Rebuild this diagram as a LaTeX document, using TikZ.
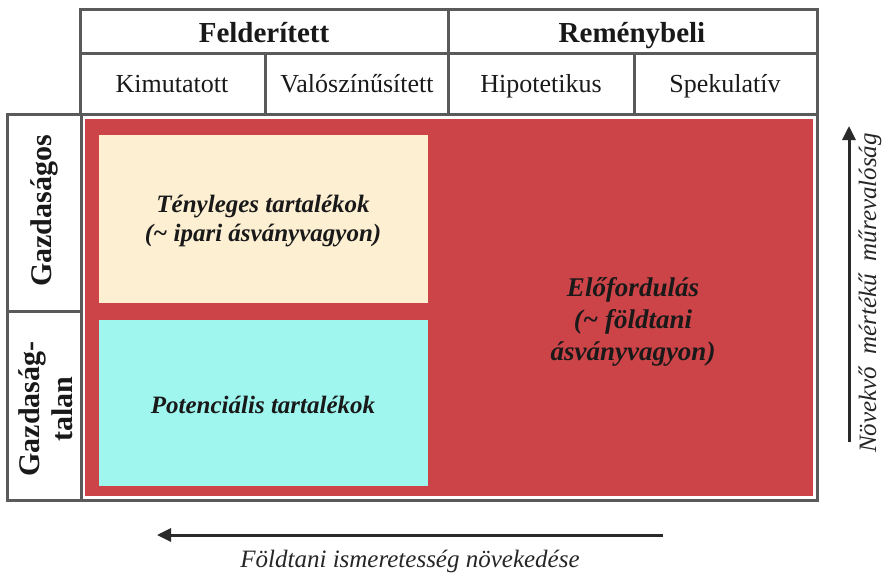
\documentclass[tikz,border=0pt]{standalone}
\usepackage{fontspec}
\setmainfont{Liberation Serif}
\usetikzlibrary{arrows.meta}
\definecolor{frame}{HTML}{5A5A5A}
\definecolor{redfill}{HTML}{CC4447}
\definecolor{creamfill}{HTML}{FCEFD2}
\definecolor{cyanfill}{HTML}{9EF6EF}
\definecolor{arrowc}{HTML}{2A2A2A}
\tikzset{
  framebox/.style={draw=frame, line width=3pt},
  framel/.style={draw=frame, line width=3pt},
  headbold/.style={font=\fontsize{29}{32}\selectfont\bfseries, text=black!90, anchor=base},
  headreg/.style={font=\fontsize{26}{30}\selectfont, text=black!90, anchor=base},
  sidebold/.style={font=\fontsize{30}{33}\selectfont\bfseries, text=black!90, rotate=90, align=center},
  innertxt/.style={font=\fontsize{25}{29}\selectfont\bfseries\itshape, text=black!90, align=center},
  bigtxt/.style={font=\fontsize{27}{32}\selectfont\bfseries\itshape, text=black!90, align=center},
  notetxt/.style={font=\fontsize{25}{28}\selectfont\itshape, text=black!85},
  bigarrow/.style={draw=arrowc, line width=3pt, -{Triangle[length=14pt,width=13pt]}}
}
\begin{document}
\begin{tikzpicture}[x=1pt,y=-1pt]
\useasboundingbox (0,0) rectangle (891,574);
% header table
\draw[framebox] (80,9) rectangle (817,114);
\draw[framel] (80,53) -- (817,53);
\draw[framel] (448,9) -- (448,114);
\draw[framel] (265,53) -- (265,114);
\draw[framel] (634,53) -- (634,114);
\node[headbold] (feld) at (264,42) {Felderített};
\node[headbold] (rem) at (632,42) {Reménybeli};
\node[headreg] (kim) at (172,92) {Kimutatott};
\node[headreg] (val) at (357,92) {Valószínűsített};
\node[headreg] (hip) at (541,92) {Hipotetikus};
\node[headreg] (spe) at (725,92) {Spekulatív};
% left table
\draw[framebox] (7,114) rectangle (81,500);
\draw[framel] (7,311) -- (81,311);
\node[sidebold] (gazd) at (44,211) {Gazdaságos};
\node[sidebold] (gazdt) at (46,409) {Gazdaság-\\talan};
% main area
\draw[framebox] (81,114) rectangle (817,500);
\fill[redfill] (85,119) rectangle (813,496);
\fill[creamfill] (99,135) rectangle (428,303);
\fill[cyanfill] (99,320) rectangle (428,486);
\node[innertxt] (teny) at (263,221) {Tényleges tartalékok\\(\textasciitilde{} ipari ásványvagyon)};
\node[innertxt] (pot) at (263,405) {Potenciális tartalékok};
\node[bigtxt] (elo) at (633,322) {Előfordulás\\(\textasciitilde{} földtani\\ásványvagyon)};
% right arrow and label
\coordinate (va) at (849,442);
\coordinate (vb) at (849,126);
\draw[bigarrow] (va) -- (vb);
\node[notetxt, rotate=90] (nov) at (870,293) {Növekvő\ \ mértékű\ \ műrevalóság};
% bottom arrow and label
\coordinate (ha) at (663,535);
\coordinate (hb) at (157,535);
\draw[bigarrow] (ha) -- (hb);
\node[notetxt] (fold) at (410,561) {Földtani ismeretesség növekedése};
\end{tikzpicture}
\end{document}
